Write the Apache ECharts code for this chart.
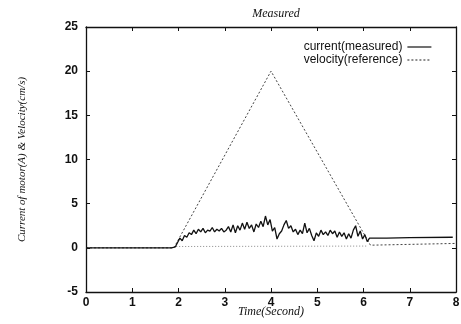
<!DOCTYPE html>
<html>
<head>
<meta charset="utf-8">
<script src="https://cdn.jsdelivr.net/npm/echarts@6/dist/echarts.min.js"></script>
<style>
  html, body { margin: 0; padding: 0; background: #fff; }
  #chart { width: 461px; height: 324px; }
</style>
</head>
<body>
<div id="chart"></div>
<script>
// measured motor current (A)
const currentTime = [0, 1.85, 1.93, 1.98, 2.03, 2.08, 2.13, 2.18, 2.23, 2.28, 2.33, 2.38, 2.43, 2.48, 2.53, 2.58,
  2.63, 2.68, 2.73, 2.78, 2.83, 2.88, 2.93, 2.98, 3.03, 3.08, 3.13, 3.18, 3.23, 3.28, 3.33, 3.38, 3.43, 3.48,
  3.53, 3.58, 3.63, 3.68, 3.73, 3.78, 3.83, 3.88, 3.93, 3.98, 4.03, 4.08, 4.13, 4.18, 4.23, 4.28, 4.33, 4.38,
  4.43, 4.48, 4.53, 4.58, 4.63, 4.68, 4.73, 4.78, 4.83, 4.88, 4.93, 4.98, 5.03, 5.08, 5.13, 5.18, 5.23, 5.28,
  5.33, 5.38, 5.43, 5.48, 5.53, 5.58, 5.63, 5.68, 5.73, 5.78, 5.83, 5.88, 5.93, 5.98, 6.03, 6.08, 6.13, 6.5, 7.0, 7.93];
const currentValues = [0, 0, 0.1, 0.6, 1.1, 0.8, 1.4, 1.2, 1.7, 1.5, 2.0, 1.6, 2.1, 1.8, 2.2, 1.7,
  2.0, 1.9, 2.3, 1.8, 2.1, 1.9, 2.2, 1.8, 2.0, 2.4, 1.8, 2.6, 1.7, 2.5, 2.0, 2.8, 2.1, 2.9,
  2.2, 2.6, 1.8, 2.7, 2.3, 3.0, 2.4, 3.6, 2.6, 3.2, 1.9, 2.3, 1.0, 1.6, 1.9, 2.6, 3.1, 2.2,
  2.5, 1.8, 2.1, 1.5, 2.0, 1.6, 2.8, 1.7, 2.2, 1.4, 0.8, 1.7, 1.3, 2.0, 1.5, 1.8, 1.4, 2.0,
  1.6, 1.9, 1.2, 1.8, 1.3, 1.7, 1.0, 1.6, 1.1, 2.0, 2.5, 1.3, 1.9, 1.0, 1.5, 0.7, 1.1, 1.1, 1.15, 1.2];

// reference velocity (cm/s)
const velocityTime = [0, 1.9, 4.0, 6.15, 8];
const velocityValues = [0, 0, 20, 0.3, 0.5];

// faint dotted trace under the current
const baseTime = [1.95, 6.1];
const baseValues = [0.15, 0.2];

const xTicks = [0, 1, 2, 3, 4, 5, 6, 7, 8];
const yTicks = [-5, 0, 5, 10, 15, 20, 25];

const zip = (a, b) => a.map((t, i) => [t, b[i]]);

const serif = '"Liberation Serif", "DejaVu Serif", serif';
const sans = '"Liberation Sans", Arial, sans-serif';

function xAx(pos, labels) {
  return {
    type: 'value', position: pos, min: xTicks[0], max: xTicks[xTicks.length - 1], interval: 1,
    axisLine: { onZero: false, lineStyle: { color: '#111', width: 1.3 } },
    axisTick: { inside: true, length: 4, lineStyle: { color: '#111' } },
    axisLabel: { show: labels, color: '#111', fontFamily: sans, fontSize: 12, fontWeight: 'bold', margin: 5 },
    splitLine: { show: false }
  };
}
function yAx(pos, labels) {
  return {
    type: 'value', position: pos, min: yTicks[0], max: yTicks[yTicks.length - 1], interval: 5,
    axisLine: { onZero: false, lineStyle: { color: '#111', width: 1.3 } },
    axisTick: { inside: true, length: 4, lineStyle: { color: '#111' } },
    axisLabel: { show: labels, color: '#111', fontFamily: sans, fontSize: 12, fontWeight: 'bold', margin: 8 },
    splitLine: { show: false }
  };
}

const chart = echarts.init(document.getElementById('chart'));
const xMain = xAx('bottom', true);
xMain.name = 'Time(Second)';
xMain.nameLocation = 'middle';
xMain.nameGap = 14;
xMain.nameMoveOverlap = false;
xMain.nameTextStyle = { fontFamily: serif, fontStyle: 'italic', fontSize: 12, color: '#111' };
const yMain = yAx('left', true);
yMain.name = 'Current of motor(A) & Velocity(cm/s)';
yMain.nameLocation = 'middle';
yMain.nameGap = 58;
yMain.nameMoveOverlap = false;
yMain.nameTextStyle = { fontFamily: serif, fontStyle: 'italic', fontSize: 11, color: '#111' };

chart.setOption({
  animation: false,
  backgroundColor: '#fff',
  title: {
    text: 'Measured', left: 271, top: 3, textAlign: 'center',
    textStyle: { fontFamily: serif, fontStyle: 'italic', fontWeight: 'normal', fontSize: 12, color: '#111' }
  },
  grid: { left: 86, right: 5, top: 27, bottom: 32, outerBoundsMode: 'none' },
  legend: {
    data: ['current(measured)', 'velocity(reference)'],
    orient: 'vertical', align: 'right', right: 24, top: 36,
    itemWidth: 24, itemHeight: 12, itemGap: 1,
    itemStyle: { opacity: 0 },
    lineStyle: { width: 1.2 },
    textStyle: { fontFamily: sans, fontSize: 12, color: '#111' }
  },
  xAxis: [xMain, xAx('top', false)],
  yAxis: [yMain, yAx('right', false)],
  series: [
    {
      name: 'baseline', type: 'line', showSymbol: false, symbol: 'none',
      data: zip(baseTime, baseValues),
      itemStyle: { color: '#888' },
      lineStyle: { color: '#888', width: 1, type: [1, 2] }
    },
    {
      name: 'velocity(reference)', type: 'line', showSymbol: false, symbol: 'none',
      data: zip(velocityTime, velocityValues),
      itemStyle: { color: '#444' },
      lineStyle: { color: '#444', width: 1, type: [2, 2] }
    },
    {
      name: 'current(measured)', type: 'line', showSymbol: false, symbol: 'none',
      data: zip(currentTime, currentValues),
      itemStyle: { color: '#111' },
      lineStyle: { color: '#111', width: 1.3 }
    }
  ]
});
</script>
</body>
</html>
